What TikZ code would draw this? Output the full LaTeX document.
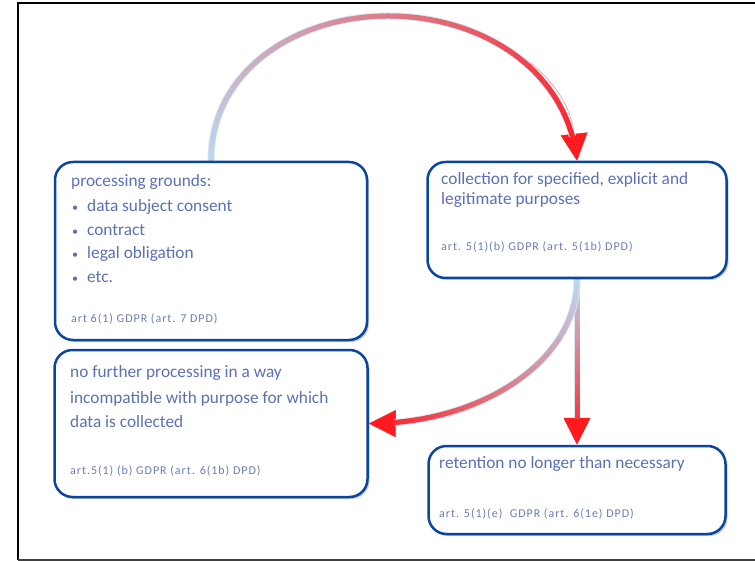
\documentclass[tikz,border=0pt]{standalone}
\usepackage{fontspec}
\setmainfont{Carlito}
\newfontfamily\reff[LetterSpace=8]{Carlito}
\usetikzlibrary{arrows.meta,decorations.markings,shadows}
\definecolor{boxblue}{HTML}{0A45A0}
\definecolor{txtblue}{HTML}{5C70B8}
\definecolor{reftxt}{HTML}{6C7CBC}
\definecolor{arrblue}{HTML}{BDD7EE}
\definecolor{arrred}{HTML}{FF1A1F}
\definecolor{haloblue}{HTML}{D6E6F7}
\pgfdeclarelayer{bg}
\pgfsetlayers{bg,main}
\newcommand\gradseg{%
  \pgfmathsetmacro\gfrac{\pgfkeysvalueof{/pgf/decoration/mark info/distance from start}/\pgfdecoratedpathlength}%
  \pgfmathtruncatemacro\gp{100*\gfrac}%
  \draw[-, line cap=butt, line width=5pt, color=arrred!\gp!arrblue] (-0.8pt,0) -- (0.8pt,0);}
\newcommand\haloseg{%
  \draw[-, line cap=butt, line width=6.8pt, color=haloblue] (-0.8pt,0) -- (0.8pt,0);}
\begin{document}
\begin{tikzpicture}[x=1pt,y=1pt,
  box/.style={draw=boxblue, line width=2.5pt, rounded corners=18pt, fill=white,
    drop shadow={shadow xshift=2pt, shadow yshift=-2pt, opacity=0.35, fill=black!60}},
  txt/.style={anchor=base west, inner sep=0pt, text=txtblue, font=\fontsize{17.3}{20}\selectfont},
  reftext/.style={anchor=base west, inner sep=0pt, text=reftxt, font=\reff\fontsize{12}{14}\selectfont},
  flow/.style={draw=none,
    preaction={draw=arrred, line width=0.2pt,
      -{Triangle[width=27pt,length=27pt,line width=0.5pt,color=arrred]}},
    postaction={decorate,decoration={markings,
      mark=between positions 0 and -27.5pt step 1pt with {\haloseg}}},
    postaction={decorate,decoration={markings,
      mark=between positions 0 and -26pt step 1pt with {\gradseg}}}}
]
\useasboundingbox (0,0) rectangle (755,-561);
% frame
\draw[line width=2.2pt] (18,-560) -- (18,-3) -- (770,-3);
\draw[line width=1.5pt, black!75] (18,-560) -- (770,-560);

% boxes
\node[box, minimum width=312pt, minimum height=178pt] (b1) at (211,-251) {};
\node[box, minimum width=299pt, minimum height=116pt] (b2) at (577,-220) {};
\node[box, minimum width=313pt, minimum height=147pt] (b3) at (211,-423.5) {};
\node[box, minimum width=297pt, minimum height=88pt] (b4) at (577,-490) {};

% box 1 text
\node[txt] (t11) at (71,-187) {processing grounds:};
\node[txt] (t12) at (72,-212) {\makebox[15pt][l]{\fontsize{12}{12}\selectfont •}data subject consent};
\node[txt] (t13) at (72,-236) {\makebox[15pt][l]{\fontsize{12}{12}\selectfont •}contract};
\node[txt] (t14) at (72,-259) {\makebox[15pt][l]{\fontsize{12}{12}\selectfont •}legal obligation};
\node[txt] (t15) at (72,-283) {\makebox[15pt][l]{\fontsize{12}{12}\selectfont •}etc.};
\node[reftext] (r1) at (71,-323) {art 6(1) GDPR (art. 7 DPD)};

% box 2 text
\node[txt] (t21) at (441,-185) {collection for specified, explicit and};
\node[txt] (t22) at (441,-205) {legitimate purposes};
\node[reftext] (r2) at (441,-251) {art. 5(1)(b) GDPR (art. 5(1b) DPD)};

% box 3 text
\node[txt] (t31) at (70,-377) {no further processing in a way};
\node[txt] (t32) at (70,-403) {incompatible with purpose for which};
\node[txt] (t33) at (70,-427) {data is collected};
\node[reftext] (r3) at (70,-474) {art.5(1) (b) GDPR (art. 6(1b) DPD)};

% box 4 text
\node[txt] (t41) at (439,-468) {retention no longer than necessary};
\node[reftext] (r4) at (439,-517) {art. 5(1)(e)~\ GDPR (art. 6(1e) DPD)};

% connectors
\begin{pgfonlayer}{bg}
\path[flow] (b1.north) .. controls (211,-70) and (297,-16) .. (388,-16)
  .. controls (481,-16) and (567,-69) .. (b2.north);
\path[flow] (b2.south) -- (b4.north);
\path[flow] (b2.south) .. controls (577,-362) and (480,-424) .. (b3.east);
\end{pgfonlayer}
\end{tikzpicture}
\end{document}
